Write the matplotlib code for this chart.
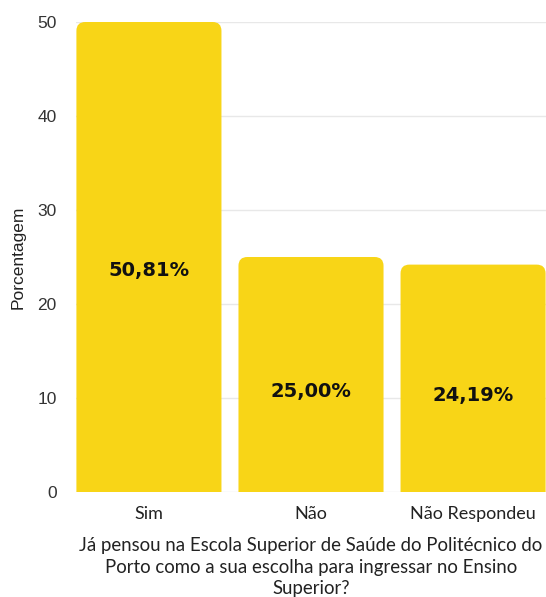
import matplotlib
matplotlib.use('Agg')
import matplotlib.pyplot as plt
from matplotlib.patches import FancyBboxPatch

categorias = ['Sim', 'Não', 'Não Respondeu']
valores = [50.81, 25.00, 24.19]
rotulos = ['50,81%', '25,00%', '24,19%']
yticks = [0, 10, 20, 30, 40, 50]

amarelo = '#F8D517'
ymax = 50

fig = plt.figure(figsize=(5.46, 5.97), dpi=100)
ax = fig.add_axes([76/546, 1-492/597, 470/546, 470/597])

x = list(range(len(categorias)))
barras = ax.bar(x, valores, width=0.895, color=amarelo, zorder=2)

# cantos arredondados em cima (a barra de baixo fica cortada pelo eixo)
for b in barras:
    b.set_visible(False)
    h = min(b.get_height(), ymax)
    p = FancyBboxPatch((b.get_x(), -2), b.get_width(), h + 2,
                       boxstyle='round,pad=0,rounding_size=0.055',
                       mutation_aspect=17, facecolor=amarelo, edgecolor='none',
                       zorder=2)
    ax.add_patch(p)

for xi, v, t in zip(x, valores, rotulos):
    ax.text(xi, v/2 - 0.8, t, ha='center', va='top', fontsize=14,
            fontweight='bold', color='#111111', family='DejaVu Sans', zorder=3)

ax.set_xlim(-0.45, 2.45)
ax.set_ylim(0, ymax)
ax.set_yticks(yticks)
ax.set_yticklabels([str(t) for t in yticks], fontsize=12.5, color='#333333',
                   family='Liberation Sans')
ax.set_xticks(x)
ax.set_xticklabels(categorias, fontsize=13, color='#222222', family='Lato')
ax.tick_params(axis='x', length=0, pad=10)
ax.tick_params(axis='y', length=0, pad=14)
ax.grid(axis='y', color='#e8e8e8', linewidth=1, zorder=0)
ax.set_axisbelow(True)
for s in ax.spines.values():
    s.set_visible(False)

ax.set_ylabel('Porcentagem', fontsize=12.5, color='#222222', family='Liberation Sans')
ax.yaxis.set_label_coords(-0.108, 0.5)

ax.set_xlabel('Já pensou na Escola Superior de Saúde do Politécnico do\n'
              'Porto como a sua escolha para ingressar no Ensino\nSuperior?',
              fontsize=13.4, color='#222222', family='Lato', linespacing=1.32,
              labelpad=11)

fig.savefig('out.png', dpi=100)
